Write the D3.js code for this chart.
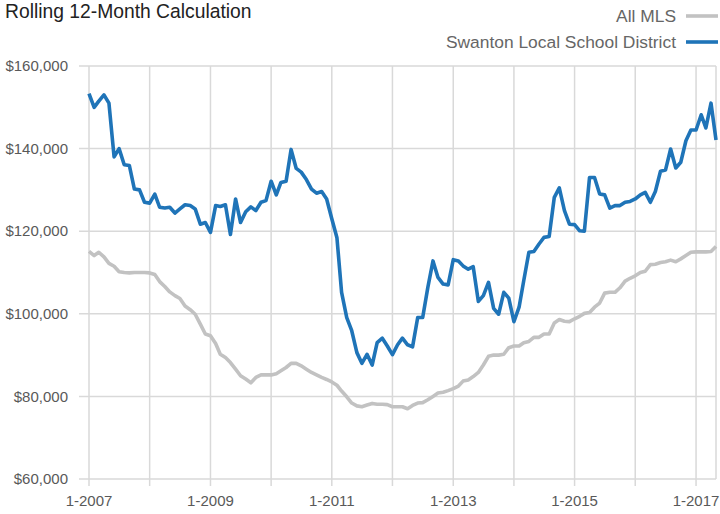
<!DOCTYPE html>
<html>
<head>
<meta charset="utf-8">
<script src="https://cdn.jsdelivr.net/npm/d3@7"></script>
<style>
  body { margin: 0; background: #fff; }
  svg { display: block; font-family: "Liberation Sans", Arial, sans-serif; }
</style>
</head>
<body>
<div id="container"></div>
<script>
/* CONSTANTS AND GLOBALS */
const width = 720;
const height = 514;
const plot = { left: 89, right: 716, top: 66, bottom: 479 };

const startMonth = new Date(2007, 0, 1);

// monthly values, 1-2007 .. 5-2017
const allMLS = [
  115100, 114100, 114900, 113800, 112200, 111500, 110200, 110000, 109900, 110000, 110000, 110000,
  109900, 109500, 107800, 106600, 105300, 104400, 103700, 101900, 101000, 99900, 97500, 95100,
  94700, 92800, 90200, 89400, 88200, 86600, 85000, 84200, 83300, 84600, 85200, 85200,
  85200, 85500, 86200, 87000, 88000, 88000, 87400, 86600, 85800, 85200, 84600, 84100,
  83500, 82700, 81300, 79900, 78400, 77700, 77500, 77900, 78300, 78100, 78100, 78000,
  77500, 77500, 77500, 77000, 77800, 78400, 78500, 79200, 80000, 80800, 81000, 81400,
  81900, 82500, 83700, 84000, 84800, 85800, 87600, 89700, 90000, 90000, 90200, 91800,
  92200, 92200, 93000, 93300, 94300, 94300, 95100, 95100, 97800, 98600, 98200, 98100,
  98800, 99400, 100100, 100300, 101600, 102600, 105000, 105200, 105200, 106300, 107900, 108600,
  109200, 110000, 110300, 111900, 112000, 112400, 112600, 113000, 112600, 113300, 114100, 114900,
  115000, 115000, 115000, 115100, 116300
];

const swanton = [
  153300, 150000, 151500, 153000, 151000, 138000, 140000, 136100, 135900, 130200, 130000, 127000,
  126800, 129000, 125800, 125600, 125800, 124400, 125400, 126400, 126200, 125400, 121700, 122100,
  119700, 126200, 126000, 126400, 119200, 127800, 122100, 124700, 125900, 125000, 127000, 127400,
  132100, 128800, 131800, 132100, 139800, 135200, 134300, 132500, 130200, 129200, 129600, 127800,
  123000, 118400, 105200, 99100, 95900, 90600, 88000, 90200, 87600, 93000, 94100, 92200,
  90100, 92500, 94100, 92500, 92000, 99100, 99100, 106400, 112800, 108800, 107200, 107000,
  113100, 112800, 111600, 110800, 111400, 103000, 104400, 107600, 101300, 99900, 105200, 103800,
  98100, 101600, 108000, 114900, 115100, 116900, 118500, 118700, 128200, 130500, 125000, 121700,
  121600, 120100, 120000, 133000, 133000, 129000, 128800, 125600, 126200, 126200, 127000, 127200,
  127800, 128800, 129400, 127000, 129600, 134500, 134800, 139900, 135300, 136700, 141900, 144500,
  144500, 148200, 145000, 151000, 142100
];

const yTicks = [60000, 80000, 100000, 120000, 140000, 160000];
const gridYears = d3.range(2007, 2018);
const labelYears = [2007, 2009, 2011, 2013, 2015, 2017];

const seriesNames = ["All MLS", "Swanton Local School District"];
const seriesColors = ["#c2c2c2", "#1f74b8"];

const months = allMLS.map((d, i) => d3.timeMonth.offset(startMonth, i));

/* SCALES */
const xScale = d3.scaleTime()
  .domain([startMonth, months[months.length - 1]])
  .range([plot.left, plot.right]);

const yScale = d3.scaleLinear()
  .domain([60000, 160000])
  .range([plot.bottom, plot.top]);

/* HTML ELEMENTS */
const svg = d3.select("#container")
  .append("svg")
  .attr("width", width)
  .attr("height", height);

const gridColor = "#d9d9d9";

// horizontal grid
svg.append("g")
  .selectAll("line")
  .data(yTicks)
  .join("line")
  .attr("x1", plot.left - 10)
  .attr("x2", plot.right)
  .attr("y1", d => yScale(d))
  .attr("y2", d => yScale(d))
  .attr("stroke", gridColor)
  .attr("stroke-width", 1.5);

// vertical grid + ticks below
svg.append("g")
  .selectAll("line")
  .data(gridYears)
  .join("line")
  .attr("x1", d => xScale(new Date(d, 0, 1)))
  .attr("x2", d => xScale(new Date(d, 0, 1)))
  .attr("y1", plot.top)
  .attr("y2", plot.bottom + 7)
  .attr("stroke", gridColor)
  .attr("stroke-width", 1.5);

// right border
svg.append("line")
  .attr("x1", plot.right).attr("x2", plot.right)
  .attr("y1", plot.top).attr("y2", plot.bottom)
  .attr("stroke", gridColor)
  .attr("stroke-width", 1.5);

// y labels
const fmt = d3.format("$,");
svg.append("g")
  .selectAll("text")
  .data(yTicks)
  .join("text")
  .text(d => fmt(d))
  .attr("x", 68)
  .attr("y", d => yScale(d))
  .attr("dy", "0.35em")
  .attr("text-anchor", "end")
  .style("fill", "#595959")
  .style("font-size", "15px");

// x labels
svg.append("g")
  .selectAll("text")
  .data(labelYears)
  .join("text")
  .text(d => "1-" + d)
  .attr("x", d => xScale(new Date(d, 0, 1)))
  .attr("y", 501)
  .attr("dy", "0.35em")
  .attr("text-anchor", "middle")
  .style("fill", "#595959")
  .style("font-size", "15px");

// lines
const line = d3.line()
  .x((d, i) => xScale(months[i]))
  .y(d => yScale(d));

[allMLS, swanton].forEach((series, k) => {
  svg.append("path")
    .datum(series)
    .attr("d", line)
    .attr("fill", "none")
    .attr("stroke", seriesColors[k])
    .attr("stroke-width", 3.6)
    .attr("stroke-linejoin", "round");
});

// title
svg.append("text")
  .text("Rolling 12-Month Calculation")
  .attr("x", 5)
  .attr("y", 18)
  .style("fill", "#222")
  .style("font-size", "19.3px");

// legend
const legend = svg.append("g")
  .selectAll("g")
  .data(seriesNames)
  .join("g")
  .attr("transform", (d, i) => `translate(0, ${16 + i * 26})`);

legend.append("text")
  .text(d => d)
  .attr("x", 676)
  .attr("dy", "0.35em")
  .attr("text-anchor", "end")
  .style("fill", "#666")
  .style("font-size", "17.4px");

legend.append("line")
  .attr("x1", 686)
  .attr("x2", 718)
  .attr("stroke", (d, i) => seriesColors[i])
  .attr("stroke-width", 3.6);
</script>
</body>
</html>
